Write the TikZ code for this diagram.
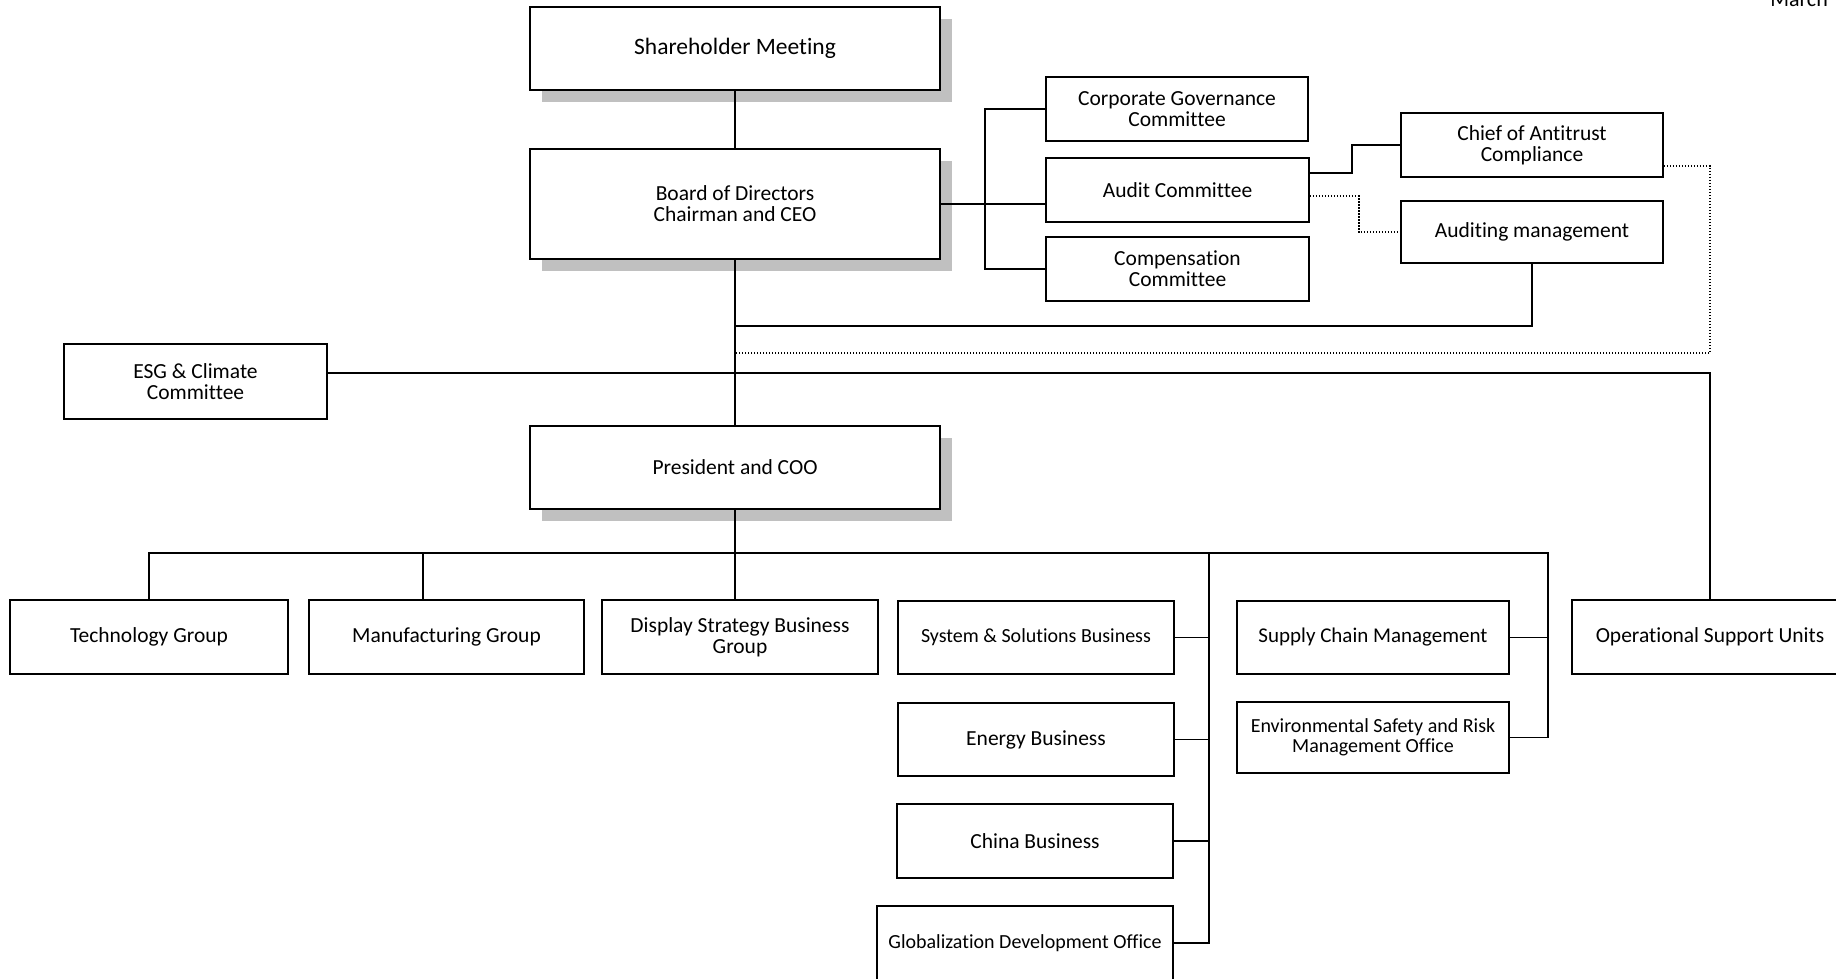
\documentclass[tikz,border=0pt]{standalone}
\usepackage{fontspec}
\setmainfont{Carlito}[Ligatures=NoCommon]
\usetikzlibrary{shadows}
\definecolor{shadowgray}{RGB}{192,192,192}
\begin{document}
\begin{tikzpicture}[x=1pt,y=-1pt,
  box/.style={draw=black, line width=1.8pt, fill=white, inner sep=0pt, align=center,
              font=\fontsize{21.5}{21}\selectfont},
  shbox/.style={box, drop shadow={shadow xshift=12pt, shadow yshift=-12pt, fill=shadowgray, opacity=1, draw=none}},
  smallfont/.style={font=\fontsize{20}{20}\selectfont},
  conn/.style={line width=1.8pt, black},
  dots/.style={line width=1.5pt, black, dash pattern=on 1.5pt off 1.5pt}]
\useasboundingbox (0,0) rectangle (1836,978);

% top
\node[shbox, minimum width=410pt, minimum height=83pt, font=\fontsize{23.5}{24}\selectfont] (sh) at (735,48.5) {Shareholder Meeting};
\node[shbox, minimum width=410pt, minimum height=110pt] (bod) at (735,204) {Board of Directors\\Chairman and CEO};
\node[shbox, minimum width=410pt, minimum height=83pt] (pres) at (735,467.5) {President and COO};

% committees
\node[box, minimum width=262pt, minimum height=64pt] (cgc) at (1177,109) {Corporate Governance\\Committee};
\node[box, minimum width=263pt, minimum height=64pt] (aud) at (1177.5,190) {Audit Committee};
\node[box, minimum width=263pt, minimum height=64pt] (comp) at (1177.5,269) {Compensation\\Committee};
\node[box, minimum width=262pt, minimum height=64pt] (chief) at (1532,145) {Chief of Antitrust\\Compliance};
\node[box, minimum width=262pt, minimum height=62pt] (audm) at (1532,232) {Auditing management};
\node[box, minimum width=263pt, minimum height=75pt] (esg) at (195.5,381.5) {ESG \& Climate\\Committee};

% bottom row
\node[box, minimum width=278pt, minimum height=74pt] (tech) at (149,637) {Technology Group};
\node[box, minimum width=275pt, minimum height=74pt] (manu) at (446.5,637) {Manufacturing Group};
\node[box, minimum width=276pt, minimum height=74pt] (disp) at (740,637) {Display Strategy Business\\Group};
\node[box, smallfont, minimum width=276pt, minimum height=73pt] (sys) at (1036,637.5) {System \& Solutions Business};
\node[box, minimum width=276pt, minimum height=73pt] (ene) at (1036,739.5) {Energy Business};
\node[box, minimum width=276pt, minimum height=74pt] (china) at (1035,841) {China Business};
\node[box, smallfont, minimum width=296pt, minimum height=74pt] (glob) at (1025,943) {Globalization Development Office};
\node[box, font=\fontsize{21}{21}\selectfont, minimum width=272pt, minimum height=73pt] (scm) at (1373,637.5) {Supply Chain Management};
\node[box, smallfont, minimum width=272pt, minimum height=71pt] (esrm) at (1373,737.5) {Environmental Safety and Risk\\Management Office};
\node[box, minimum width=276pt, minimum height=74pt] (osu) at (1710,637) {Operational Support Units};

\node[anchor=base east, inner sep=0pt, font=\fontsize{22}{22}\selectfont] (march) at (1828,6) {March};

% coordinates
\coordinate (busL) at (149,553);
\coordinate (busR) at (1548,553);
\coordinate (v1) at (1209,553);
\coordinate (brk) at (985,109);
\coordinate (j1) at (735,326);
\coordinate (j2) at (735,353);
\coordinate (mtop) at ([xshift=-23.5pt]manu.north);

% connectors
\draw[conn] (sh.south) -- (bod.north);
\draw[conn] (bod.south) -- (pres.north);
\draw[conn] (pres.south) -- (pres.south |- disp.north);
\draw[conn] (tech.north) -- (busL) -- (busR) |- (esrm.east);
\draw[conn] (mtop) -- (mtop |- busL);
\draw[conn] (v1) |- (glob.east);
\draw[conn] (sys.east) -- (sys.east -| v1);
\draw[conn] (ene.east) -- (ene.east -| v1);
\draw[conn] (china.east) -- (china.east -| v1);
\draw[conn] (scm.east) -- (scm.east -| busR);

\draw[conn] (bod.east) -- (aud.west |- bod.east);
\draw[conn] (cgc.west) -| (brk |- comp.west) -- (comp.west);
\draw[conn] ([yshift=17pt]aud.east) -- ++(42,0) |- (chief.west);
\draw[dots] ([yshift=-6pt]aud.east) -- ++(49,0) |- (audm.west);
\draw[conn] (audm.south) |- (j1);
\draw[dots] ([yshift=-21pt]chief.east) -| (osu.north |- j2) -- (j2);
\draw[conn] ([yshift=8.5pt]esg.east) -| (osu.north);
\end{tikzpicture}
\end{document}
